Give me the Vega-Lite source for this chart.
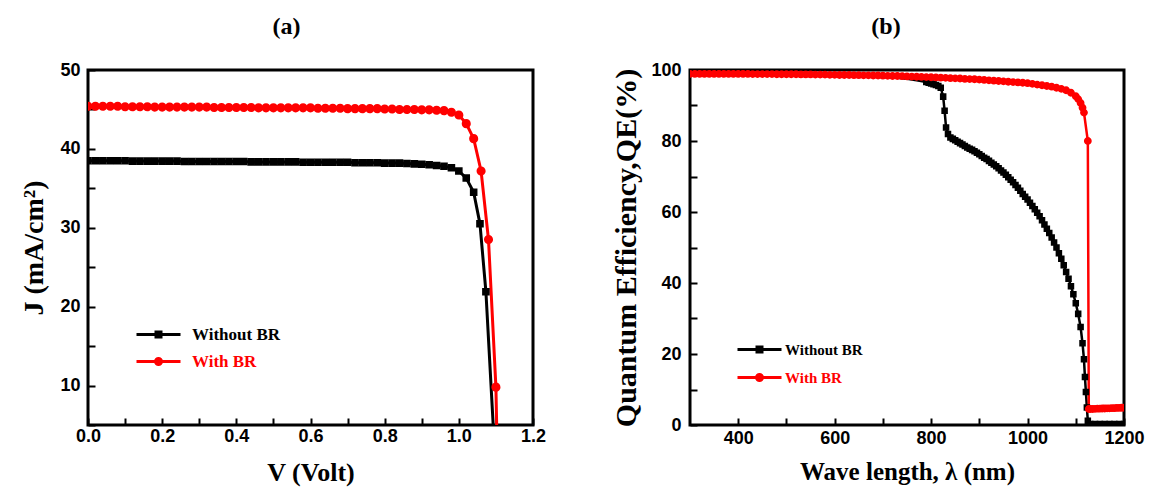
{
  "$schema": "https://vega.github.io/schema/vega-lite/v6.json",
  "background": "white",
  "padding": {"left": 19, "top": 13, "right": 0, "bottom": 0},
  "spacing": 62,
  "config": {
    "view": {"stroke": "black", "strokeWidth": 3},
    "axis": {"domain": false, "offset": -7, "tickColor": "black", "tickWidth": 2, "tickSize": 7, "grid": false, "labelFlush": false, "labelFont": "Liberation Sans", "labelFontWeight": "bold", "labelFontSize": 18, "labelColor": "black", "titleFont": "Liberation Serif", "titleFontWeight": "bold", "titleColor": "black"},
    "title": {"font": "Liberation Serif", "fontWeight": "bold", "fontSize": 24, "color": "black"},
    "legend": {"orient": "none", "title": null, "symbolSize": 100, "labelFont": "Liberation Serif", "labelFontWeight": "bold", "padding": 0, "symbolStrokeWidth": 3, "symbolOpacity": 1,
      "symbolType": {"expr": "datum.value === 'With BR' ? 'M-4.4,0H4.4M-0.6,0A0.6,0.6 0 1,0 0.6,0A0.6,0.6 0 1,0 -0.6,0Z' : 'M-4.4,0H4.4M-0.5,-0.5H0.5V0.5H-0.5Z'"},
      "symbolStrokeColor": {"expr": "datum.value === 'With BR' ? '#ff0000' : '#000000'"},
      "labelColor": {"expr": "datum.value === 'With BR' ? '#ff0000' : '#000000'"}}
  },
  "resolve": {"scale": {"color": "independent", "shape": "independent"}},
  "hconcat": [
    {
      "title": {"text": "(a)", "offset": 22, "dx": -24},
      "width": 445,
      "height": 355,
      "view": {"stroke": "black", "strokeWidth": 3},
      "data": {"values": [
        {"series": "Without BR", "V": 0.00, "J": 38.5}, {"series": "Without BR", "V": 0.02, "J": 38.5}, {"series": "Without BR", "V": 0.04, "J": 38.5}, {"series": "Without BR", "V": 0.06, "J": 38.5}, {"series": "Without BR", "V": 0.08, "J": 38.5}, {"series": "Without BR", "V": 0.10, "J": 38.5},
        {"series": "Without BR", "V": 0.12, "J": 38.45}, {"series": "Without BR", "V": 0.14, "J": 38.45}, {"series": "Without BR", "V": 0.16, "J": 38.45}, {"series": "Without BR", "V": 0.18, "J": 38.45}, {"series": "Without BR", "V": 0.20, "J": 38.45}, {"series": "Without BR", "V": 0.22, "J": 38.45}, {"series": "Without BR", "V": 0.24, "J": 38.45},
        {"series": "Without BR", "V": 0.26, "J": 38.4}, {"series": "Without BR", "V": 0.28, "J": 38.4}, {"series": "Without BR", "V": 0.30, "J": 38.4}, {"series": "Without BR", "V": 0.32, "J": 38.4}, {"series": "Without BR", "V": 0.34, "J": 38.4}, {"series": "Without BR", "V": 0.36, "J": 38.4}, {"series": "Without BR", "V": 0.38, "J": 38.4}, {"series": "Without BR", "V": 0.40, "J": 38.4}, {"series": "Without BR", "V": 0.42, "J": 38.4},
        {"series": "Without BR", "V": 0.44, "J": 38.35}, {"series": "Without BR", "V": 0.46, "J": 38.35}, {"series": "Without BR", "V": 0.48, "J": 38.35}, {"series": "Without BR", "V": 0.50, "J": 38.35}, {"series": "Without BR", "V": 0.52, "J": 38.35}, {"series": "Without BR", "V": 0.54, "J": 38.35}, {"series": "Without BR", "V": 0.56, "J": 38.35},
        {"series": "Without BR", "V": 0.58, "J": 38.3}, {"series": "Without BR", "V": 0.60, "J": 38.3}, {"series": "Without BR", "V": 0.62, "J": 38.3}, {"series": "Without BR", "V": 0.64, "J": 38.3}, {"series": "Without BR", "V": 0.66, "J": 38.3}, {"series": "Without BR", "V": 0.68, "J": 38.3}, {"series": "Without BR", "V": 0.70, "J": 38.3},
        {"series": "Without BR", "V": 0.72, "J": 38.25}, {"series": "Without BR", "V": 0.74, "J": 38.25}, {"series": "Without BR", "V": 0.76, "J": 38.25}, {"series": "Without BR", "V": 0.78, "J": 38.25}, {"series": "Without BR", "V": 0.80, "J": 38.2}, {"series": "Without BR", "V": 0.82, "J": 38.2}, {"series": "Without BR", "V": 0.84, "J": 38.2},
        {"series": "Without BR", "V": 0.86, "J": 38.15}, {"series": "Without BR", "V": 0.88, "J": 38.1}, {"series": "Without BR", "V": 0.90, "J": 38.05}, {"series": "Without BR", "V": 0.92, "J": 38.0}, {"series": "Without BR", "V": 0.94, "J": 37.9}, {"series": "Without BR", "V": 0.96, "J": 37.8}, {"series": "Without BR", "V": 0.98, "J": 37.6},
        {"series": "Without BR", "V": 1.00, "J": 37.2}, {"series": "Without BR", "V": 1.02, "J": 36.3}, {"series": "Without BR", "V": 1.04, "J": 34.5}, {"series": "Without BR", "V": 1.057, "J": 30.5}, {"series": "Without BR", "V": 1.073, "J": 21.9}, {"series": "Without BR", "V": 1.095, "J": 3.0},
        {"series": "With BR", "V": 0.00, "J": 45.4}, {"series": "With BR", "V": 0.02, "J": 45.4}, {"series": "With BR", "V": 0.04, "J": 45.4}, {"series": "With BR", "V": 0.06, "J": 45.4}, {"series": "With BR", "V": 0.08, "J": 45.4},
        {"series": "With BR", "V": 0.10, "J": 45.35}, {"series": "With BR", "V": 0.12, "J": 45.35}, {"series": "With BR", "V": 0.14, "J": 45.35}, {"series": "With BR", "V": 0.16, "J": 45.35},
        {"series": "With BR", "V": 0.18, "J": 45.3}, {"series": "With BR", "V": 0.20, "J": 45.3}, {"series": "With BR", "V": 0.22, "J": 45.3}, {"series": "With BR", "V": 0.24, "J": 45.3}, {"series": "With BR", "V": 0.26, "J": 45.3}, {"series": "With BR", "V": 0.28, "J": 45.3}, {"series": "With BR", "V": 0.30, "J": 45.3}, {"series": "With BR", "V": 0.32, "J": 45.3},
        {"series": "With BR", "V": 0.34, "J": 45.25}, {"series": "With BR", "V": 0.36, "J": 45.25}, {"series": "With BR", "V": 0.38, "J": 45.25}, {"series": "With BR", "V": 0.40, "J": 45.25}, {"series": "With BR", "V": 0.42, "J": 45.25}, {"series": "With BR", "V": 0.44, "J": 45.25},
        {"series": "With BR", "V": 0.46, "J": 45.2}, {"series": "With BR", "V": 0.48, "J": 45.2}, {"series": "With BR", "V": 0.50, "J": 45.2}, {"series": "With BR", "V": 0.52, "J": 45.2}, {"series": "With BR", "V": 0.54, "J": 45.2}, {"series": "With BR", "V": 0.56, "J": 45.2}, {"series": "With BR", "V": 0.58, "J": 45.2}, {"series": "With BR", "V": 0.60, "J": 45.2},
        {"series": "With BR", "V": 0.62, "J": 45.15}, {"series": "With BR", "V": 0.64, "J": 45.15}, {"series": "With BR", "V": 0.66, "J": 45.15}, {"series": "With BR", "V": 0.68, "J": 45.15},
        {"series": "With BR", "V": 0.70, "J": 45.1}, {"series": "With BR", "V": 0.72, "J": 45.1}, {"series": "With BR", "V": 0.74, "J": 45.1}, {"series": "With BR", "V": 0.76, "J": 45.1}, {"series": "With BR", "V": 0.78, "J": 45.1},
        {"series": "With BR", "V": 0.80, "J": 45.05}, {"series": "With BR", "V": 0.82, "J": 45.05}, {"series": "With BR", "V": 0.84, "J": 45.0}, {"series": "With BR", "V": 0.86, "J": 45.0}, {"series": "With BR", "V": 0.88, "J": 45.0},
        {"series": "With BR", "V": 0.90, "J": 44.95}, {"series": "With BR", "V": 0.92, "J": 44.95}, {"series": "With BR", "V": 0.94, "J": 44.9}, {"series": "With BR", "V": 0.96, "J": 44.85}, {"series": "With BR", "V": 0.98, "J": 44.65},
        {"series": "With BR", "V": 1.00, "J": 44.3}, {"series": "With BR", "V": 1.02, "J": 43.2}, {"series": "With BR", "V": 1.04, "J": 41.3}, {"series": "With BR", "V": 1.06, "J": 37.2}, {"series": "With BR", "V": 1.08, "J": 28.5}, {"series": "With BR", "V": 1.10, "J": 9.8}, {"series": "With BR", "V": 1.11, "J": -14}
      ]},
      "encoding": {
        "x": {"field": "V", "type": "quantitative", "scale": {"domain": [0, 1.2], "nice": false, "zero": false},
          "axis": {"title": "V (Volt)", "titleFontSize": 26, "values": [0, 0.1, 0.2, 0.3, 0.4, 0.5, 0.6, 0.7, 0.8, 0.9, 1.0, 1.1, 1.2], "labelExpr": "round(datum.value*10) % 2 == 0 ? format(datum.value, '.1f') : ''", "labelPadding": 2, "titlePadding": 14}},
        "y": {"field": "J", "type": "quantitative", "scale": {"domain": [5, 50], "nice": false, "zero": false},
          "axis": {"title": "J (mA/cm²)", "titleFontSize": 28, "values": [5, 10, 15, 20, 25, 30, 35, 40, 45, 50], "labelExpr": "datum.value % 10 == 0 ? datum.label : ''", "labelPadding": 8, "titlePadding": 11}}
      },
      "layer": [
        {"mark": {"type": "line", "strokeWidth": 3, "clip": true},
          "encoding": {"detail": {"field": "series"},
            "color": {"condition": {"test": "datum.series === 'With BR'", "value": "#ff0000"}, "value": "#000000"}}},
        {"mark": {"type": "point", "filled": true, "size": 230, "opacity": 1, "clip": true},
          "encoding": {
            "color": {"field": "series", "type": "nominal", "scale": {"domain": ["Without BR", "With BR"], "range": ["#000000", "#ff0000"]},
              "legend": {"legendX": 62, "legendY": 256, "labelFontSize": 17, "labelOffset": 25, "rowPadding": 9}},
            "shape": {"field": "series", "type": "nominal", "scale": {"domain": ["Without BR", "With BR"], "range": ["M-4.4,0H4.4M-0.5,-0.5H0.5V0.5H-0.5Z", "M-4.4,0H4.4M-0.6,0A0.6,0.6 0 1,0 0.6,0A0.6,0.6 0 1,0 -0.6,0Z"]},
              "legend": null}
          }}
      ]
    },
    {
      "title": {"text": "(b)", "offset": 22, "dx": -21},
      "width": 434,
      "height": 355,
      "view": {"stroke": "black", "strokeWidth": 3},
      "data": {"values": [
        {"series": "Without BR", "w": 300, "q": 99.0}, {"series": "Without BR", "w": 350, "q": 99.0}, {"series": "Without BR", "w": 400, "q": 98.9}, {"series": "Without BR", "w": 450, "q": 98.9}, {"series": "Without BR", "w": 500, "q": 98.8}, {"series": "Without BR", "w": 550, "q": 98.7}, {"series": "Without BR", "w": 600, "q": 98.6}, {"series": "Without BR", "w": 650, "q": 98.4}, {"series": "Without BR", "w": 700, "q": 98.1}, {"series": "Without BR", "w": 730, "q": 97.8}, {"series": "Without BR", "w": 750, "q": 97.5}, {"series": "Without BR", "w": 770, "q": 97.1}, {"series": "Without BR", "w": 790, "q": 96.6},
        {"series": "Without BR", "w": 795, "q": 96.4}, {"series": "Without BR", "w": 800, "q": 96.2}, {"series": "Without BR", "w": 805, "q": 96.0}, {"series": "Without BR", "w": 810, "q": 95.8}, {"series": "Without BR", "w": 815, "q": 95.5}, {"series": "Without BR", "w": 820, "q": 95.0}, {"series": "Without BR", "w": 825, "q": 92.5}, {"series": "Without BR", "w": 828, "q": 88.5}, {"series": "Without BR", "w": 831, "q": 83.8}, {"series": "Without BR", "w": 835, "q": 82.0}, {"series": "Without BR", "w": 840, "q": 81.0}, {"series": "Without BR", "w": 845, "q": 80.6},
        {"series": "Without BR", "w": 850, "q": 80.2}, {"series": "Without BR", "w": 855, "q": 79.8}, {"series": "Without BR", "w": 860, "q": 79.4}, {"series": "Without BR", "w": 865, "q": 79.0}, {"series": "Without BR", "w": 870, "q": 78.6}, {"series": "Without BR", "w": 875, "q": 78.2}, {"series": "Without BR", "w": 880, "q": 77.8}, {"series": "Without BR", "w": 885, "q": 77.5}, {"series": "Without BR", "w": 890, "q": 77.1}, {"series": "Without BR", "w": 895, "q": 76.7},
        {"series": "Without BR", "w": 900, "q": 76.3}, {"series": "Without BR", "w": 905, "q": 75.8}, {"series": "Without BR", "w": 910, "q": 75.3}, {"series": "Without BR", "w": 915, "q": 74.9}, {"series": "Without BR", "w": 920, "q": 74.4}, {"series": "Without BR", "w": 925, "q": 73.9}, {"series": "Without BR", "w": 930, "q": 73.4}, {"series": "Without BR", "w": 935, "q": 72.9}, {"series": "Without BR", "w": 940, "q": 72.3}, {"series": "Without BR", "w": 945, "q": 71.7},
        {"series": "Without BR", "w": 950, "q": 71.1}, {"series": "Without BR", "w": 955, "q": 70.5}, {"series": "Without BR", "w": 960, "q": 69.8}, {"series": "Without BR", "w": 965, "q": 69.1}, {"series": "Without BR", "w": 970, "q": 68.4}, {"series": "Without BR", "w": 975, "q": 67.6}, {"series": "Without BR", "w": 980, "q": 66.8}, {"series": "Without BR", "w": 985, "q": 66.0}, {"series": "Without BR", "w": 990, "q": 65.1}, {"series": "Without BR", "w": 995, "q": 64.3},
        {"series": "Without BR", "w": 1000, "q": 63.5}, {"series": "Without BR", "w": 1005, "q": 62.6}, {"series": "Without BR", "w": 1010, "q": 61.7}, {"series": "Without BR", "w": 1015, "q": 60.8}, {"series": "Without BR", "w": 1020, "q": 59.8}, {"series": "Without BR", "w": 1025, "q": 58.8}, {"series": "Without BR", "w": 1030, "q": 57.7}, {"series": "Without BR", "w": 1035, "q": 56.5}, {"series": "Without BR", "w": 1040, "q": 55.3}, {"series": "Without BR", "w": 1045, "q": 54.1},
        {"series": "Without BR", "w": 1050, "q": 52.8}, {"series": "Without BR", "w": 1055, "q": 51.4}, {"series": "Without BR", "w": 1060, "q": 50.0}, {"series": "Without BR", "w": 1065, "q": 48.4}, {"series": "Without BR", "w": 1070, "q": 46.8}, {"series": "Without BR", "w": 1075, "q": 45.0}, {"series": "Without BR", "w": 1080, "q": 43.1}, {"series": "Without BR", "w": 1085, "q": 41.2}, {"series": "Without BR", "w": 1090, "q": 39.1}, {"series": "Without BR", "w": 1095, "q": 36.8},
        {"series": "Without BR", "w": 1100, "q": 34.3}, {"series": "Without BR", "w": 1105, "q": 31.3}, {"series": "Without BR", "w": 1110, "q": 27.6}, {"series": "Without BR", "w": 1114, "q": 23.0}, {"series": "Without BR", "w": 1117, "q": 18.5}, {"series": "Without BR", "w": 1119, "q": 13.5}, {"series": "Without BR", "w": 1121, "q": 9.3}, {"series": "Without BR", "w": 1123, "q": 4.9}, {"series": "Without BR", "w": 1125, "q": 1.2},
        {"series": "Without BR", "w": 1130, "q": 0.3}, {"series": "Without BR", "w": 1140, "q": 0.3}, {"series": "Without BR", "w": 1150, "q": 0.3}, {"series": "Without BR", "w": 1160, "q": 0.3}, {"series": "Without BR", "w": 1170, "q": 0.3}, {"series": "Without BR", "w": 1180, "q": 0.3}, {"series": "Without BR", "w": 1190, "q": 0.3}, {"series": "Without BR", "w": 1200, "q": 0.3},
        {"series": "With BR", "w": 300, "q": 98.9}, {"series": "With BR", "w": 310, "q": 98.9}, {"series": "With BR", "w": 320, "q": 98.9}, {"series": "With BR", "w": 330, "q": 98.9}, {"series": "With BR", "w": 340, "q": 98.9}, {"series": "With BR", "w": 350, "q": 98.9}, {"series": "With BR", "w": 360, "q": 98.9}, {"series": "With BR", "w": 370, "q": 98.9}, {"series": "With BR", "w": 380, "q": 98.9}, {"series": "With BR", "w": 390, "q": 98.9},
        {"series": "With BR", "w": 400, "q": 98.9}, {"series": "With BR", "w": 410, "q": 98.9}, {"series": "With BR", "w": 420, "q": 98.9}, {"series": "With BR", "w": 430, "q": 98.85}, {"series": "With BR", "w": 440, "q": 98.85}, {"series": "With BR", "w": 450, "q": 98.85}, {"series": "With BR", "w": 460, "q": 98.85}, {"series": "With BR", "w": 470, "q": 98.85}, {"series": "With BR", "w": 480, "q": 98.8}, {"series": "With BR", "w": 490, "q": 98.8},
        {"series": "With BR", "w": 500, "q": 98.8}, {"series": "With BR", "w": 510, "q": 98.8}, {"series": "With BR", "w": 520, "q": 98.8}, {"series": "With BR", "w": 530, "q": 98.75}, {"series": "With BR", "w": 540, "q": 98.75}, {"series": "With BR", "w": 550, "q": 98.75}, {"series": "With BR", "w": 560, "q": 98.7}, {"series": "With BR", "w": 570, "q": 98.7}, {"series": "With BR", "w": 580, "q": 98.7}, {"series": "With BR", "w": 590, "q": 98.65},
        {"series": "With BR", "w": 600, "q": 98.65}, {"series": "With BR", "w": 610, "q": 98.6}, {"series": "With BR", "w": 620, "q": 98.6}, {"series": "With BR", "w": 630, "q": 98.6}, {"series": "With BR", "w": 640, "q": 98.55}, {"series": "With BR", "w": 650, "q": 98.55}, {"series": "With BR", "w": 660, "q": 98.5}, {"series": "With BR", "w": 670, "q": 98.5}, {"series": "With BR", "w": 680, "q": 98.45}, {"series": "With BR", "w": 690, "q": 98.45},
        {"series": "With BR", "w": 700, "q": 98.4}, {"series": "With BR", "w": 710, "q": 98.35}, {"series": "With BR", "w": 720, "q": 98.3}, {"series": "With BR", "w": 730, "q": 98.3}, {"series": "With BR", "w": 740, "q": 98.25}, {"series": "With BR", "w": 750, "q": 98.2}, {"series": "With BR", "w": 760, "q": 98.15}, {"series": "With BR", "w": 770, "q": 98.1}, {"series": "With BR", "w": 780, "q": 98.05}, {"series": "With BR", "w": 790, "q": 98.0},
        {"series": "With BR", "w": 800, "q": 97.95}, {"series": "With BR", "w": 810, "q": 97.9}, {"series": "With BR", "w": 820, "q": 97.85}, {"series": "With BR", "w": 830, "q": 97.8}, {"series": "With BR", "w": 840, "q": 97.7}, {"series": "With BR", "w": 850, "q": 97.65}, {"series": "With BR", "w": 860, "q": 97.6}, {"series": "With BR", "w": 870, "q": 97.5}, {"series": "With BR", "w": 880, "q": 97.45}, {"series": "With BR", "w": 890, "q": 97.4},
        {"series": "With BR", "w": 900, "q": 97.3}, {"series": "With BR", "w": 910, "q": 97.2}, {"series": "With BR", "w": 920, "q": 97.1}, {"series": "With BR", "w": 930, "q": 97.0}, {"series": "With BR", "w": 940, "q": 96.9}, {"series": "With BR", "w": 950, "q": 96.8}, {"series": "With BR", "w": 960, "q": 96.7}, {"series": "With BR", "w": 970, "q": 96.6}, {"series": "With BR", "w": 980, "q": 96.5}, {"series": "With BR", "w": 990, "q": 96.4},
        {"series": "With BR", "w": 1000, "q": 96.3}, {"series": "With BR", "w": 1010, "q": 96.1}, {"series": "With BR", "w": 1020, "q": 95.9}, {"series": "With BR", "w": 1030, "q": 95.7}, {"series": "With BR", "w": 1040, "q": 95.5}, {"series": "With BR", "w": 1050, "q": 95.3}, {"series": "With BR", "w": 1060, "q": 95.0}, {"series": "With BR", "w": 1070, "q": 94.7}, {"series": "With BR", "w": 1080, "q": 94.3}, {"series": "With BR", "w": 1090, "q": 93.6},
        {"series": "With BR", "w": 1100, "q": 92.6}, {"series": "With BR", "w": 1105, "q": 91.8}, {"series": "With BR", "w": 1110, "q": 90.7}, {"series": "With BR", "w": 1114, "q": 89.4}, {"series": "With BR", "w": 1117, "q": 88.0}, {"series": "With BR", "w": 1125, "q": 80.0}, {"series": "With BR", "w": 1127, "q": 4.5},
        {"series": "With BR", "w": 1130, "q": 4.5}, {"series": "With BR", "w": 1135, "q": 4.5}, {"series": "With BR", "w": 1140, "q": 4.55}, {"series": "With BR", "w": 1145, "q": 4.6}, {"series": "With BR", "w": 1150, "q": 4.6}, {"series": "With BR", "w": 1155, "q": 4.65}, {"series": "With BR", "w": 1160, "q": 4.65}, {"series": "With BR", "w": 1165, "q": 4.7}, {"series": "With BR", "w": 1170, "q": 4.7}, {"series": "With BR", "w": 1175, "q": 4.75},
        {"series": "With BR", "w": 1180, "q": 4.75}, {"series": "With BR", "w": 1185, "q": 4.8}, {"series": "With BR", "w": 1190, "q": 4.8}, {"series": "With BR", "w": 1195, "q": 4.85}, {"series": "With BR", "w": 1200, "q": 4.85}
      ]},
      "encoding": {
        "x": {"field": "w", "type": "quantitative", "scale": {"domain": [300, 1200], "nice": false, "zero": false},
          "axis": {"title": "Wave length, λ (nm)", "titleFontSize": 25, "values": [400, 500, 600, 700, 800, 900, 1000, 1100, 1200], "format": "d", "labelExpr": "datum.value % 200 == 0 ? datum.label : ''", "labelPadding": 4, "titlePadding": 12}},
        "y": {"field": "q", "type": "quantitative", "scale": {"domain": [0, 100], "nice": false, "zero": false},
          "axis": {"title": "Quantum Efficiency,QE(%)", "titleFontSize": 30, "values": [0, 10, 20, 30, 40, 50, 60, 70, 80, 90, 100], "labelExpr": "datum.value % 20 == 0 ? datum.label : ''", "labelPadding": 9, "titlePadding": 9}}
      },
      "layer": [
        {"mark": {"type": "line", "strokeWidth": 2.5, "clip": true},
          "encoding": {"detail": {"field": "series"},
            "color": {"condition": {"test": "datum.series === 'With BR'", "value": "#ff0000"}, "value": "#000000"}}},
        {"transform": [{"filter": "datum.series === 'With BR' || datum.w >= 790"}],
          "mark": {"type": "point", "filled": true, "size": 170, "opacity": 1, "clip": true},
          "encoding": {
            "color": {"field": "series", "type": "nominal", "scale": {"domain": ["Without BR", "With BR"], "range": ["#000000", "#ff0000"]},
              "legend": {"legendX": 62, "legendY": 272, "labelFontSize": 15, "labelOffset": 18, "rowPadding": 10}},
            "shape": {"field": "series", "type": "nominal", "scale": {"domain": ["Without BR", "With BR"], "range": ["M-4.4,0H4.4M-0.5,-0.5H0.5V0.5H-0.5Z", "M-4.4,0H4.4M-0.6,0A0.6,0.6 0 1,0 0.6,0A0.6,0.6 0 1,0 -0.6,0Z"]},
              "legend": null}
          }}
      ]
    }
  ]
}
